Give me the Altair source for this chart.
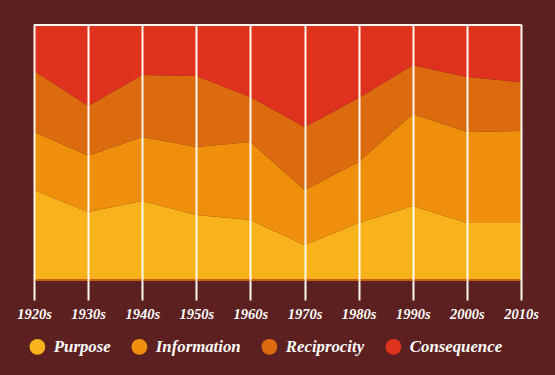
import altair as alt
import pandas as pd

decades = ["1920s", "1930s", "1940s", "1950s", "1960s", "1970s", "1980s", "1990s", "2000s", "2010s"]
series = ["Purpose", "Information", "Reciprocity", "Consequence"]
purpose = [35.2, 26.6, 30.9, 25.4, 23.4, 13.7, 22.3, 28.9, 22.3, 22.3]
information = [22.7, 21.9, 25.0, 26.6, 30.5, 21.5, 23.8, 35.9, 35.5, 35.9]
reciprocity = [23.8, 19.5, 24.2, 27.7, 17.6, 24.6, 25.0, 19.1, 21.5, 19.1]
consequence = [18.3, 32.0, 19.9, 20.3, 28.5, 40.2, 28.9, 16.1, 20.7, 22.7]
colors = ["#F8B31C", "#EE900B", "#DC6B10", "#DF321E"]

rows = []
for idx, (name, vals) in enumerate(zip(series, [purpose, information, reciprocity, consequence])):
    for d, v in zip(decades, vals):
        rows.append({"decade": d, "series": name, "value": v, "idx": idx})
df = pd.DataFrame(rows)

FONT = "Liberation Serif"
W, H = 487, 256

area = alt.Chart(df).mark_area(opacity=1).encode(
    x=alt.X("decade:O", sort=decades, scale=alt.Scale(type="point", padding=0),
            axis=alt.Axis(title=None, labelAngle=0, grid=True, gridColor="#FFF8EE", gridWidth=2,
                          gridOpacity=1, tickColor="#FFF8EE", tickWidth=2, tickSize=20,
                          domain=False, labelColor="white", labelFont=FONT, labelFontSize=14.5,
                          labelFontStyle="italic", labelFontWeight="bold", labelPadding=7,
                          zindex=1)),
    y=alt.Y("value:Q", stack="normalize", axis=None),
    color=alt.Color("series:N", sort=series,
                    scale=alt.Scale(domain=series, range=colors),
                    legend=alt.Legend(title=None, orient="none", direction="horizontal",
                                      legendX=-5, legendY=314, symbolType="circle",
                                      symbolSize=250, symbolStrokeWidth=0, symbolOpacity=1,
                                      labelColor="white", labelFont=FONT, labelFontSize=16.8,
                                      labelFontStyle="italic", labelFontWeight="bold",
                                      labelOffset=8, columnPadding=20)),
    order=alt.Order("idx:Q", sort="ascending"),
)

top = alt.Chart(df).mark_rule(color="#FFF8EE", strokeWidth=2).encode(
    x=alt.value(0), x2=alt.value(W), y=alt.value(1)
)

bottom = alt.Chart(df).mark_rule(color="#C8620E", strokeWidth=1.5).encode(
    x=alt.value(0), x2=alt.value(W), y=alt.value(H)
)

chart = alt.layer(area, bottom, top).properties(
    width=W, height=H,
    autosize=alt.AutoSizeParams(type="none"),
    padding={"left": 34, "top": 24, "right": 34, "bottom": 95},
    background="#5C2020",
).configure_view(stroke=None)

chart.save("out.html", embed_options={"renderer": "svg", "actions": False})
